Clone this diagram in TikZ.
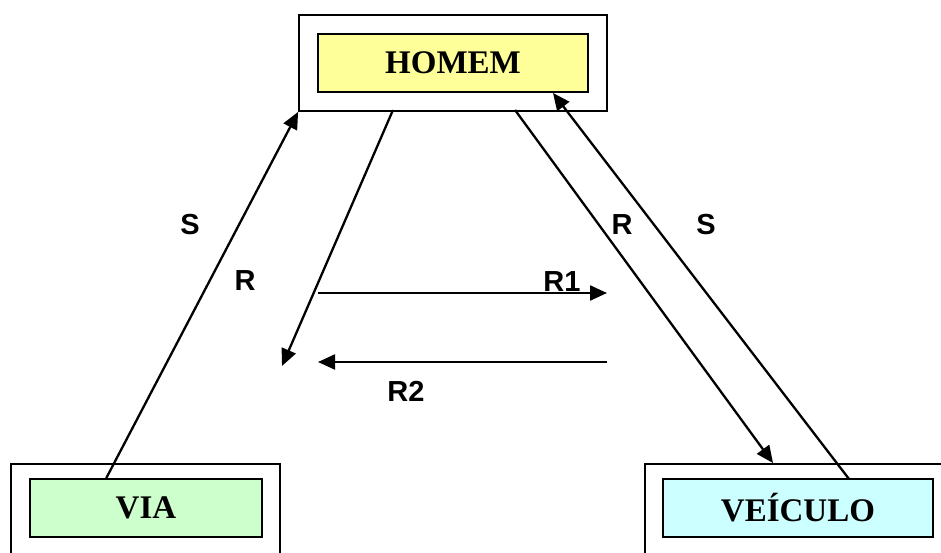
\documentclass[tikz,border=0pt]{standalone}
\usepackage{fontspec}
\setmainfont{Liberation Serif}
\setsansfont{Liberation Sans}
\usetikzlibrary{arrows.meta,positioning,calc}
\definecolor{homemfill}{HTML}{FFFF99}
\definecolor{viafill}{HTML}{CCFFCC}
\definecolor{veicfill}{HTML}{CCFFFF}
\begin{document}
\begin{tikzpicture}[x=1pt,y=-1pt,
  frame/.style={draw=black,line width=1.8pt,fill=white,inner sep=0pt},
  panel/.style={draw=black,line width=1.8pt,inner sep=0pt,
    font=\rmfamily\bfseries\fontsize{33}{33}\selectfont},
  flow/.style={line width=2.3pt,-{Triangle[length=17pt,width=15pt]}},
  lbl/.style={font=\sffamily\bfseries\fontsize{29}{29}\selectfont,inner sep=0pt}]
  \clip (0,0) rectangle (941,553);
  \fill[white] (0,0) rectangle (941,553);
  % outer frames
  \node[frame,minimum width=308pt,minimum height=96pt] (homemframe) at (453,63) {};
  \node[frame,minimum width=269pt,minimum height=150pt] (viaframe) at (145.5,539) {};
  \node[frame,minimum width=360pt,minimum height=150pt] (veicframe) at (825,539) {};
  % inner panels
  \node[panel,fill=homemfill,minimum width=270pt,minimum height=58pt] (homem) at (453,63) {HOMEM};
  \node[panel,fill=viafill,minimum width=232pt,minimum height=58pt] (via) at (146,508) {VIA};
  \node[panel,fill=veicfill,minimum width=270pt,minimum height=58pt] (veiculo) at (798,508) {VEÍCULO};
  % end points of the connectors
  \coordinate (viaout) at ($(via.north west)!0.33!(via.north east)$);
  \coordinate (homemLout) at (393,110);
  \coordinate (homemRout) at (515,110);
  \coordinate (homemRin) at (553,93);
  \coordinate (veicin) at (773,463);
  \coordinate (veicout) at (849,479);
  \coordinate (backtip) at (282,366);
  \coordinate (r1start) at (318,293);
  \coordinate (r1end) at (607,293);
  \coordinate (r2start) at (607,362);
  \coordinate (r2end) at (318,362);
  % connectors
  \draw[flow] (viaout) -- (homemframe.south west);
  \draw[flow] (homemLout) -- (backtip);
  \draw[flow] (r1start) -- (r1end);
  \draw[flow] (r2start) -- (r2end);
  \draw[flow] (homemRout) -- (veicin);
  \draw[flow] (veicout) -- (homemRin);
  % labels
  \node[lbl] (s1) at (190,225) {S};
  \node[lbl] (r1) at (245,281) {R};
  \node[lbl] (r3) at (622,225) {R};
  \node[lbl] (s2) at (706,225) {S};
  \node[lbl] (r1l) at (562,282) {R1};
  \node[lbl] (r2l) at (406,391) {R2};
\end{tikzpicture}
\end{document}
